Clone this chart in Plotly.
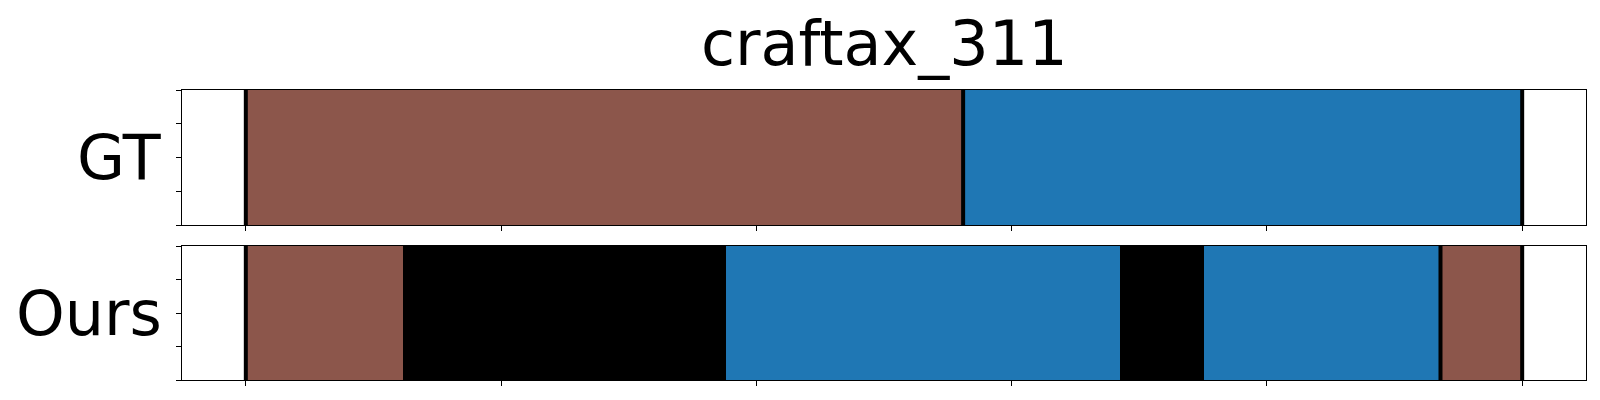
import plotly.graph_objects as go
from plotly.subplots import make_subplots

title = "craftax_311"
rows = ["GT", "Ours"]

# segments per row: start, end, label colour (timeline normalised to 0..100)
gt_starts = [0.0, 56.2]
gt_ends = [56.2, 100.0]
gt_colors = ["#8c564b", "#1f77b4"]
gt_bounds = [0.0, 56.2, 100.0]

ours_starts = [0.0, 12.3, 37.6, 68.5, 75.1, 93.6]
ours_ends = [12.3, 37.6, 68.5, 75.1, 93.6, 100.0]
ours_colors = ["#8c564b", "#000000", "#1f77b4", "#000000", "#1f77b4", "#8c564b"]
ours_bounds = [0.0, 93.6, 100.0]

x_ticks = [0, 20, 40, 60, 80, 100]
y_ticks = [0, 0.25, 0.5, 0.75, 1.0]

# page body has an 8px margin, so the figure is a little smaller and offset
W, H = 1584, 384
ml, mt = 174, 82
pw, ph = 1404, 290
mr = W - ml - pw
mb = H - mt - ph

fig = make_subplots(rows=2, cols=1, shared_xaxes=False)

data = [(gt_starts, gt_ends, gt_colors, gt_bounds),
        (ours_starts, ours_ends, ours_colors, ours_bounds)]
for r, (st, en, co, bd) in enumerate(data, start=1):
    for s, e, c in zip(st, en, co):
        fig.add_trace(go.Bar(x=[e - s], base=[s], y=[0.5], width=[1.0],
                             orientation="h", marker=dict(color=c, line=dict(width=0)),
                             showlegend=False, hoverinfo="skip"), row=r, col=1)
    for b in bd:
        fig.add_trace(go.Scatter(x=[b, b], y=[0, 1], mode="lines",
                                 line=dict(color="black", width=4),
                                 showlegend=False, hoverinfo="skip"), row=r, col=1)

top_dom = [(290 - 135) / ph, 1.0]
bot_dom = [0.0, (290 - 156) / ph]

axis_common = dict(showline=True, mirror=True, linecolor="black", linewidth=1.2,
                   showgrid=False, zeroline=False, ticks="outside", ticklen=5,
                   tickwidth=1, tickcolor="black", showticklabels=False)
fig.update_xaxes(range=[-5, 105], tickvals=x_ticks, **axis_common)
fig.update_yaxes(range=[0, 1], tickvals=y_ticks, **axis_common)
fig.update_layout(yaxis=dict(domain=top_dom), yaxis2=dict(domain=bot_dom),
                  xaxis=dict(domain=[0, 1]), xaxis2=dict(domain=[0, 1]))

font = dict(family="DejaVu Sans", size=62, color="black")
fig.add_annotation(text="GT", xref="paper", yref="paper", x=0, xshift=-18,
                   y=(top_dom[0] + top_dom[1]) / 2, xanchor="right", yanchor="middle",
                   showarrow=False, font=font)
fig.add_annotation(text="Ours", xref="paper", yref="paper", x=0, xshift=-18,
                   y=(bot_dom[0] + bot_dom[1]) / 2, xanchor="right", yanchor="middle",
                   showarrow=False, font=font)
fig.add_annotation(text=title, xref="paper", yref="paper", x=0.5, y=1,
                   yshift=47, xanchor="center", yanchor="middle",
                   showarrow=False, font=font)

fig.update_layout(width=W, height=H, margin=dict(l=ml, r=mr, t=mt, b=mb),
                  plot_bgcolor="white", paper_bgcolor="white", barmode="overlay",
                  bargap=0)

fig.write_html("out.html")
